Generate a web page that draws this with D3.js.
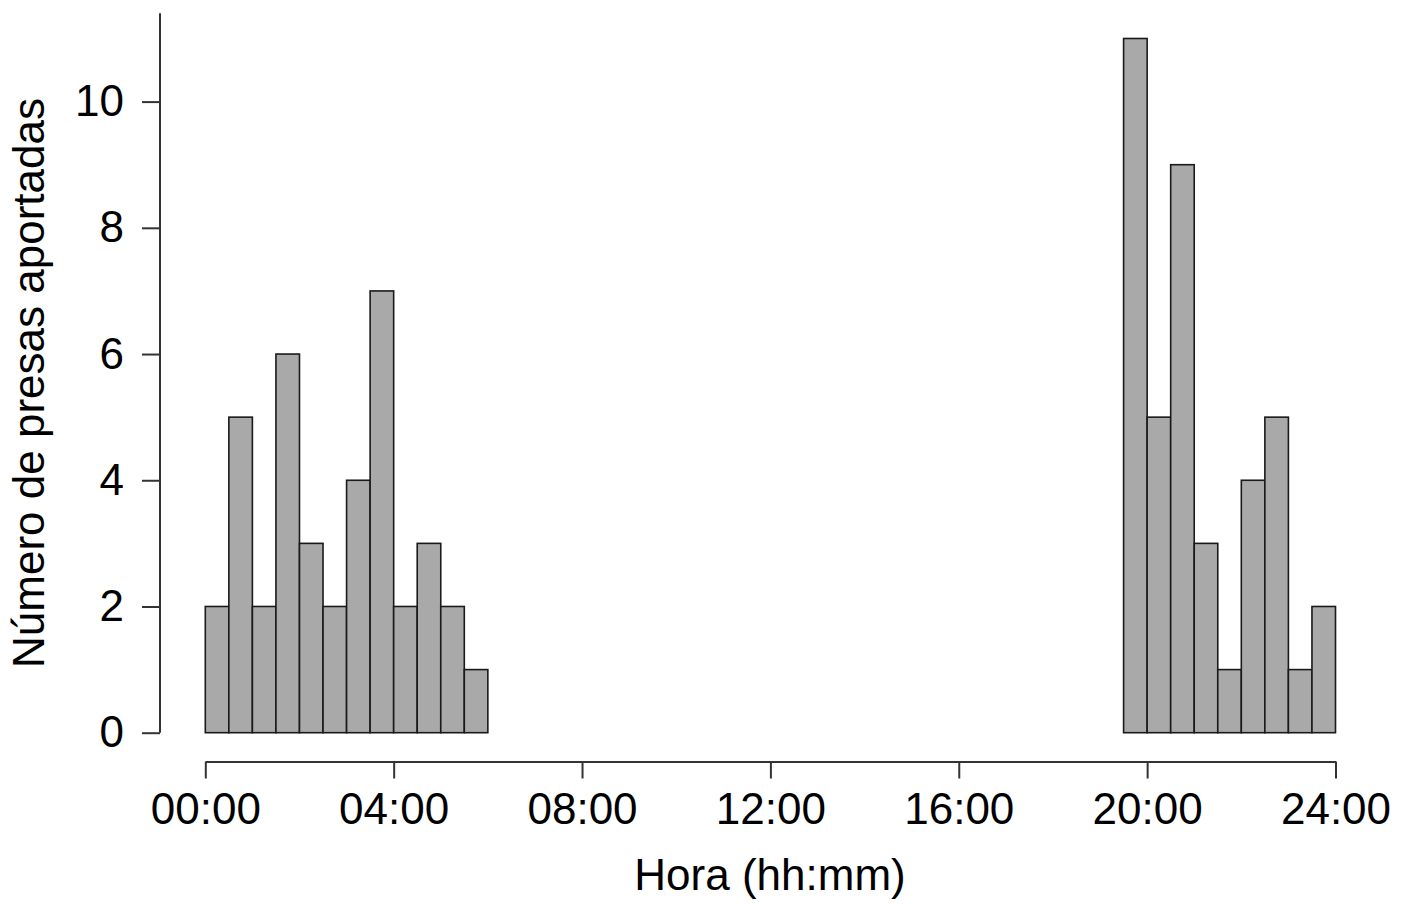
<!DOCTYPE html>
<html>
<head>
<meta charset="utf-8">
<script src="https://cdn.jsdelivr.net/npm/d3@7"></script>
<style>
  body { margin: 0; background: #fff; }
  text { font-family: "Liberation Sans", Arial, sans-serif; fill: #000; }
</style>
</head>
<body>
<div id="chart"></div>
<script>
// half-hour bins, start hour of each bin
var binStarts = [0, 0.5, 1, 1.5, 2, 2.5, 3, 3.5, 4, 4.5, 5, 5.5,
                 6, 6.5, 7, 7.5, 8, 8.5, 9, 9.5, 10, 10.5, 11, 11.5,
                 12, 12.5, 13, 13.5, 14, 14.5, 15, 15.5, 16, 16.5, 17, 17.5,
                 18, 18.5, 19, 19.5, 20, 20.5, 21, 21.5, 22, 22.5, 23, 23.5];
var counts = [2, 5, 2, 6, 3, 2, 4, 7, 2, 3, 2, 1,
              0, 0, 0, 0, 0, 0, 0, 0, 0, 0, 0, 0,
              0, 0, 0, 0, 0, 0, 0, 0, 0, 0, 0, 0,
              0, 0, 0, 11, 5, 9, 3, 1, 4, 5, 1, 2];
var binWidth = 0.5;
var xTicks = [0, 4, 8, 12, 16, 20, 24];
var xTickLabels = ["00:00", "04:00", "08:00", "12:00", "16:00", "20:00", "24:00"];
var yTicks = [0, 2, 4, 6, 8, 10];
var yAxisMax = 11.4;

var W = 1407, H = 904;
var fontSize = 44;

var svg = d3.select("#chart")
    .append("svg")
    .attr("width", W)
    .attr("height", H);

var x = d3.scaleLinear()
    .domain([0, 24])
    .range([205.3, 1335.5]);

var y = d3.scaleLinear()
    .domain([0, 10])
    .range([732.7, 101.6]);

// bars
svg.append("g")
    .selectAll("rect")
    .data(counts)
    .enter()
    .append("rect")
    .attr("x", function(d, i) { return x(binStarts[i]); })
    .attr("y", function(d) { return y(d); })
    .attr("width", function(d, i) { return x(binStarts[i] + binWidth) - x(binStarts[i]); })
    .attr("height", function(d) { return y(0) - y(d); })
    .style("fill", "#a9a9a9")
    .style("stroke", "#1a1a1a")
    .style("stroke-width", 1.6);

// x axis (R style, offset below the plot)
var xAxisY = 761.5;
var xAxis = svg.append("g")
    .attr("transform", "translate(0," + xAxisY + ")")
    .call(d3.axisBottom(x)
        .tickValues(xTicks)
        .tickFormat(function(d, i) { return xTickLabels[i]; })
        .tickSize(17)
        .tickPadding(14)
        .tickSizeOuter(0));
xAxis.select(".domain").attr("stroke", "#333").attr("stroke-width", 2);
xAxis.selectAll(".tick line").attr("stroke", "#333").attr("stroke-width", 2);
xAxis.selectAll(".tick text")
    .style("font-size", fontSize + "px")
    .style("font-family", "Liberation Sans, Arial, sans-serif")
    .attr("fill", "#000");

// y axis
var yAxisX = 160;
var yAxis = svg.append("g")
    .attr("transform", "translate(" + yAxisX + ",0)")
    .call(d3.axisLeft(y)
        .tickValues(yTicks)
        .tickSize(18)
        .tickPadding(18)
        .tickSizeOuter(0));
yAxis.select(".domain").remove();
yAxis.append("line")
    .attr("x1", 0).attr("x2", 0)
    .attr("y1", y(0)).attr("y2", y(yAxisMax))
    .attr("stroke", "#333")
    .attr("stroke-width", 2);
yAxis.selectAll(".tick line").attr("stroke", "#333").attr("stroke-width", 2);
yAxis.selectAll(".tick text")
    .style("font-size", fontSize + "px")
    .style("font-family", "Liberation Sans, Arial, sans-serif")
    .attr("fill", "#000");

// axis titles
svg.append("text")
    .attr("x", 770)
    .attr("y", 890)
    .attr("text-anchor", "middle")
    .style("font-size", fontSize + "px")
    .text("Hora (hh:mm)");

svg.append("text")
    .attr("transform", "translate(44," + 383 + ") rotate(-90)")
    .attr("text-anchor", "middle")
    .style("font-size", fontSize + "px")
    .text("Número de presas aportadas");
</script>
</body>
</html>
